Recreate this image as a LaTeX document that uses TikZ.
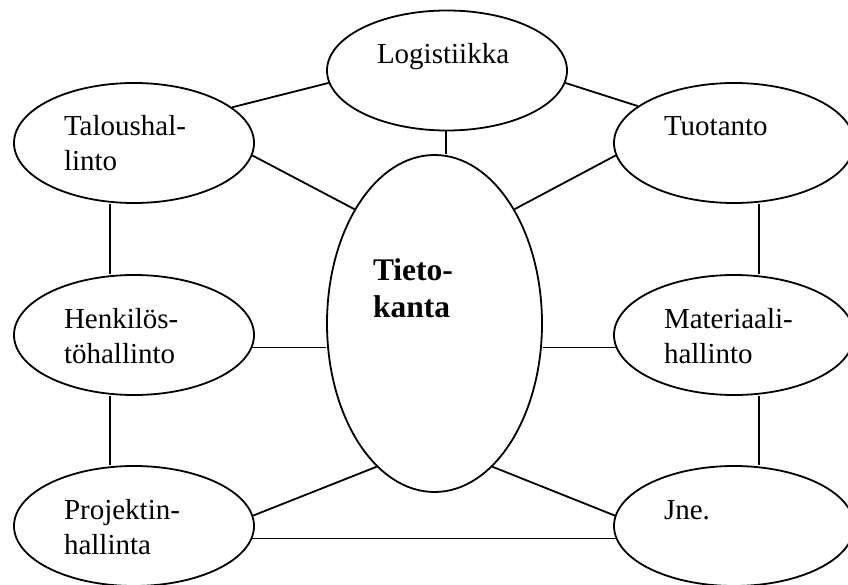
\documentclass[tikz,border=0pt]{standalone}
\usepackage{fontspec}
\setmainfont{Liberation Serif}
\usetikzlibrary{shapes.geometric}
\begin{document}
\begin{tikzpicture}[x=1pt,y=-1pt,
  bub/.style={ellipse,draw,line width=1.8pt,minimum width=240pt,minimum height=120pt,
    inner sep=0pt,text width=140pt,align=left,text height=20pt,text depth=34pt,
    font=\fontsize{29}{35}\selectfont},
  core/.style={ellipse,draw,line width=1.8pt,minimum width=215pt,minimum height=337pt,
    inner sep=0pt,text width=123pt,align=left,text height=22pt,text depth=109pt,
    font=\fontsize{31.5}{37}\selectfont\bfseries},
  link/.style={line width=1.8pt}]
\clip (0,0) rectangle (848,585);
\node[bub] (log) at (447,70.5) {Logistiikka};
\node[bub] (tal) at (134,143) {Taloushal-\\linto};
\node[bub] (tuo) at (734,143) {Tuotanto};
\node[bub] (hen) at (134,335) {Henkilös-\\töhallinto};
\node[bub] (mat) at (734,335) {Materiaali-\\hallinto};
\node[bub] (pro) at (134,526) {Projektin-\\hallinta};
\node[bub] (jne) at (734,526) {Jne.};
\node[core] (tie) at (434.5,323.5) {Tieto-\\kanta};
\draw[link] (tal.20) -- (log.186);
\draw[link] (log.-6) -- (tuo.159);
\draw[link] ([xshift=-1pt]log.south) -- ([xshift=-1pt]log.south |- tie.north);
\draw[link] (tal.-6) -- (tie.125);
\draw[link] (tuo.186) -- (tie.55);
\draw[link] ([xshift=-24pt]tal.south) -- ([xshift=-24pt]hen.north);
\draw[link] ([xshift=25pt]tuo.south) -- ([xshift=25pt]mat.north);
\draw[link] (hen.-6) -- (hen.-6 -| tie.west);
\draw[link] (mat.186) -- (mat.186 -| tie.east);
\draw[link] ([xshift=-24pt]hen.south) -- ([xshift=-24pt]pro.north);
\draw[link] ([xshift=25pt]mat.south) -- ([xshift=25pt]jne.north);
\draw[link] (pro.5) -- (tie.-112);
\draw[link] (jne.175) -- (tie.-68);
\draw[link] (pro.-6) -- (jne.186);
\end{tikzpicture}
\end{document}
